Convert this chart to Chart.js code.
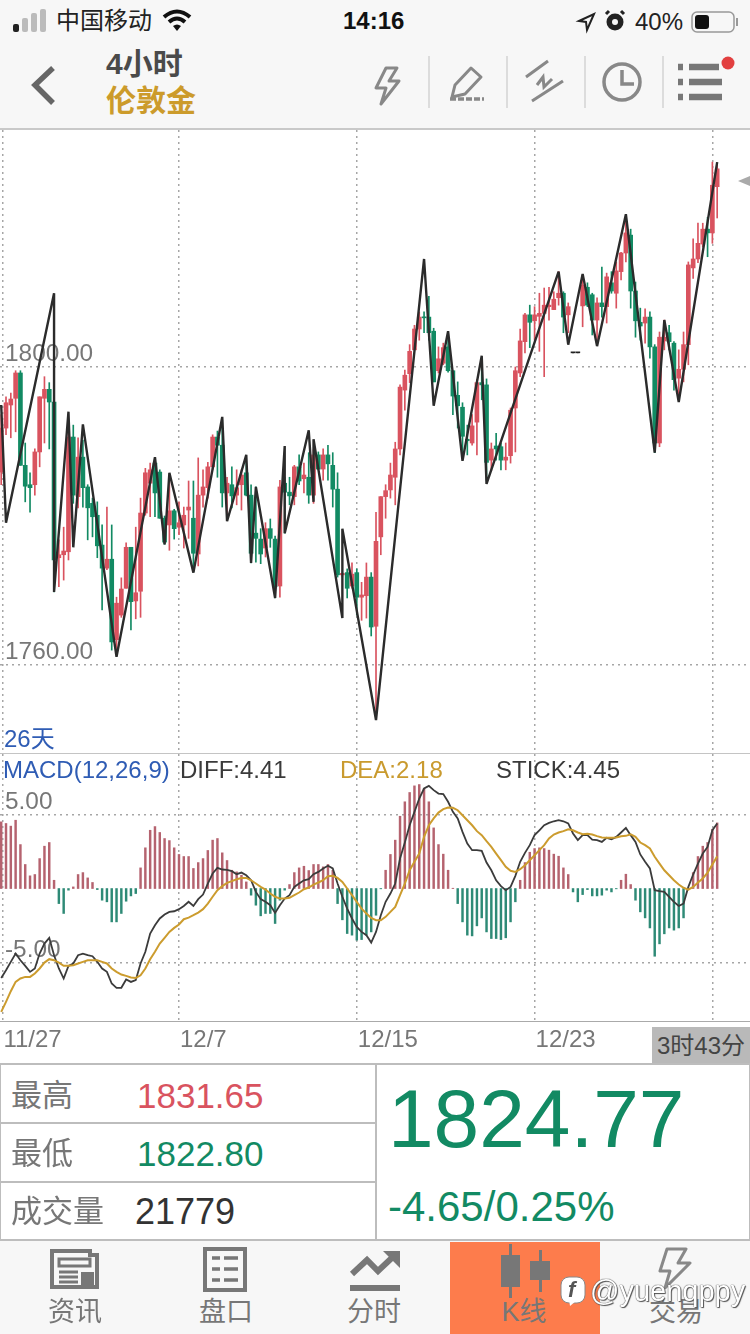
<!DOCTYPE html>
<html lang="zh">
<head>
<meta charset="utf-8">
<title>伦敦金 4小时</title>
<script src="https://cdn.jsdelivr.net/npm/chart.js@4/dist/chart.umd.min.js"></script>
<style>
    html, body { margin: 0; padding: 0; background: #fff; }
    body {
        position: relative;
        width: 750px;
        height: 1334px;
        overflow: hidden;
        font-family: "Liberation Sans", "Noto Sans CJK SC", sans-serif;
    }
    .abs { position: absolute; white-space: nowrap; line-height: 1; }
    canvas { position: absolute; left: 0; display: block; }
    svg { position: absolute; overflow: visible; }

    /* top bars */
    #topBar { position: absolute; left: 0; top: 0; width: 750px; height: 128px; background: #f7f7f7; border-bottom: 2px solid #c9c9c9; }
    .sep { position: absolute; top: 56px; width: 2px; height: 52px; background: #dcdcdc; }

    /* chart panes */
    .paneLine { position: absolute; left: 0; width: 750px; height: 1px; background: #c4c4c4; }
    #priceArrow { position: absolute; left: 738px; top: 176px; width: 0; height: 0; border-top: 5px solid transparent; border-bottom: 5px solid transparent; border-right: 12px solid #aaa; }

    /* quote table */
    .line { position: absolute; background: #bdbdbd; }
    .cell { color: #777; font-size: 31px; }

    /* bottom tabs */
    #tabBar { position: absolute; left: 0; top: 1241px; width: 750px; height: 93px; background: #f7f7f7; }
    #tabActive { position: absolute; left: 450px; top: 1242px; width: 150px; height: 92px; background: #fd7c4c; }
    .tab { color: #777; font-size: 27px; transform: translateX(-50%); top: 1299px; }
</style>
</head>
<body>

<div id="topBar"></div>

<!-- status bar -->
<svg style="left:0;top:0" width="750" height="44">
    <rect x="13" y="24" width="6" height="8" rx="2" fill="#222"/>
    <rect x="22" y="18" width="6" height="14" rx="2" fill="#bbb"/>
    <rect x="31" y="13" width="6" height="19" rx="2" fill="#bbb"/>
    <rect x="40" y="9" width="6" height="23" rx="2" fill="#bbb"/>
    <path d="M164 17 Q177 6 190 17 M169 22 Q177 15 185 22" fill="none" stroke="#111" stroke-width="4"/>
    <path d="M173 26 L177 31 L181 26 Q177 23 173 26 Z" fill="#111"/>
    <path d="M579 21 L594 14 L587 30 L586 22 Z" fill="none" stroke="#222" stroke-width="2"/>
    <circle cx="615" cy="22" r="8.5" fill="#222"/>
    <circle cx="615" cy="22" r="3" fill="#f7f7f7"/>
    <path d="M606 14 L609 11 M624 14 L621 11" stroke="#222" stroke-width="3"/>
    <rect x="692" y="12" width="42" height="20" rx="5" fill="none" stroke="#999" stroke-width="1.5"/>
    <rect x="695" y="15" width="14" height="14" rx="3" fill="#111"/>
    <rect x="736" y="18" width="2" height="8" fill="#999"/>
</svg>
<div class="abs" style="left:56px;top:9px;font-size:24px;color:#222">中国移动</div>
<div class="abs" style="left:343px;top:9px;font-size:24px;font-weight:bold;color:#111">14:16</div>
<div class="abs" style="left:635px;top:10px;font-size:24px;color:#222">40%</div>

<!-- title row -->
<svg style="left:0;top:44px" width="750" height="84">
    <path d="M53 24 L35 41 L53 59" fill="none" stroke="#666" stroke-width="5.5"/>
    <path d="M386 24 L376 44 L386 44 L381 60 L399 37 L389 37 L397 24 Z" fill="none" stroke="#888" stroke-width="3" stroke-linejoin="round"/>
    <path d="M452 53 L455 41 L471 24 L481 33 L465 50 Z" fill="none" stroke="#888" stroke-width="3" stroke-linejoin="round"/>
    <path d="M450 55 H484" stroke="#888" stroke-width="3.5" stroke-dasharray="6 2"/>
    <path d="M526 33 L548 17 M532 57 L563 37 M537 41 L543 33 L544 43 L552 35" fill="none" stroke="#888" stroke-width="3"/>
    <circle cx="622" cy="38" r="18" fill="none" stroke="#888" stroke-width="3.5"/>
    <path d="M622 26 V40 H634" fill="none" stroke="#888" stroke-width="3.5"/>
    <path d="M678 23 H683 M689 23 H719 M678 38 H683 M689 38 H722 M678 53 H683 M689 53 H722" stroke="#777" stroke-width="6.5"/>
    <circle cx="728" cy="19" r="6.5" fill="#e24040"/>
</svg>
<div class="abs" style="left:106px;top:49px;font-size:30px;font-weight:bold;color:#4a4a4a">4小时</div>
<div class="abs" style="left:106px;top:86px;font-size:30px;font-weight:bold;color:#cc9b2b">伦敦金</div>
<div class="sep" style="left:428px"></div>
<div class="sep" style="left:506px"></div>
<div class="sep" style="left:584px"></div>
<div class="sep" style="left:662px"></div>

<!-- price pane -->
<canvas id="priceChart" width="750" height="623" style="top:130px"></canvas>
<div id="priceArrow"></div>
<div class="abs" style="left:4px;top:727px;font-size:24px;color:#2f5cb4">26天</div>
<div class="paneLine" style="top:753px"></div>

<!-- MACD pane -->
<canvas id="macdChart" width="750" height="310" style="top:754px"></canvas>
<div class="abs" style="left:3px;top:758px;font-size:24px;color:#2f5cb4">MACD(12,26,9)</div>
<div class="abs" style="left:180px;top:758px;font-size:24px;color:#3a3a3a">DIFF:4.41</div>
<div class="abs" style="left:340px;top:758px;font-size:24px;color:#c99a2e">DEA:2.18</div>
<div class="abs" style="left:496px;top:758px;font-size:24px;color:#3a3a3a">STICK:4.45</div>
<div class="paneLine" style="top:1021px;background:#aaa"></div>
<div class="abs" style="left:652px;top:1027px;width:98px;height:36px;line-height:37px;background:#b9b9b9;color:#444;font-size:24px;text-align:center">3时43分</div>

<!-- quote table -->
<div class="line" style="left:0;top:1063px;width:750px;height:2px"></div>
<div class="line" style="left:0;top:1122px;width:375px;height:2px"></div>
<div class="line" style="left:0;top:1181px;width:375px;height:2px"></div>
<div class="line" style="left:0;top:1239px;width:750px;height:2px"></div>
<div class="line" style="left:375px;top:1064px;width:2px;height:176px"></div>
<div class="line" style="left:0;top:1064px;width:1px;height:176px"></div>
<div class="line" style="left:749px;top:1064px;width:1px;height:176px"></div>
<div class="abs cell" style="left:11px;top:1080px">最高</div>
<div class="abs cell" style="left:11px;top:1138px">最低</div>
<div class="abs cell" style="left:11px;top:1196px">成交量</div>
<div class="abs" style="left:137px;top:1078px;font-size:35px;color:#d9535f">1831.65</div>
<div class="abs" style="left:137px;top:1136px;font-size:35px;color:#128a63">1822.80</div>
<div class="abs" style="left:135px;top:1194px;font-size:36px;color:#333">21779</div>
<div class="abs" style="left:388px;top:1078px;font-size:82px;color:#128a63">1824.77</div>
<div class="abs" style="left:388px;top:1186px;font-size:42px;color:#128a63">-4.65/0.25%</div>

<!-- bottom tabs -->
<div id="tabBar"></div>
<div id="tabActive"></div>
<svg style="left:0;top:1241px" width="750" height="93">
    <path d="M52 10 H90 V14 H97 V46 H52 Z" fill="none" stroke="#777" stroke-width="4"/>
    <path d="M59 18 H90 V25 H59 Z M59 31 H78 M59 36 H78 M59 41 H78" fill="none" stroke="#777" stroke-width="3"/>
    <rect x="81" y="31" width="13" height="13" fill="#777"/>
    <rect x="205" y="8" width="40" height="41" fill="none" stroke="#777" stroke-width="4"/>
    <path d="M212 17 H220 M224 17 H238 M212 28 H220 M224 28 H238 M212 39 H220 M224 39 H238" stroke="#777" stroke-width="3.5"/>
    <path d="M352 33 L367 19 L378 30 L396 13" fill="none" stroke="#777" stroke-width="6"/>
    <path d="M383 10 H400 V27 Z" fill="#777"/>
    <rect x="350" y="44" width="50" height="6" fill="#777"/>
    <rect x="501" y="14" width="19" height="32" fill="#777"/>
    <rect x="509" y="3" width="3" height="54" fill="#777"/>
    <rect x="530" y="20" width="20" height="19" fill="#777"/>
    <rect x="539" y="9" width="3" height="42" fill="#777"/>
    <path d="M667 8 L660 30 L670 30 L665 47 L690 22 L678 22 L686 8 Z" fill="none" stroke="#888" stroke-width="3" stroke-linejoin="round"/>
</svg>
<div class="abs tab" style="left:75px">资讯</div>
<div class="abs tab" style="left:226px">盘口</div>
<div class="abs tab" style="left:374px">分时</div>
<div class="abs tab" style="left:524px">K线</div>
<div class="abs tab" style="left:676px">交易</div>

<!-- account mark over the tabs -->
<svg style="left:0;top:0" width="750" height="1334" pointer-events="none">
    <rect x="561" y="1277" width="24" height="26" rx="8" fill="#fff" stroke="#888" stroke-width="1"/>
    <path d="M570 1306 L569 1299 L576 1301 Z" fill="#fff"/>
</svg>
<div class="abs" style="left:568px;top:1279px;font-size:22px;font-style:italic;font-weight:bold;color:#555">f</div>
<div class="abs" style="left:590px;top:1277px;font-size:29px;color:#fff;text-shadow:0 0 1px #444,0 0 1px #444,1px 1px 1px #555">@yuenqppy</div>

<script>
// Candles, oldest first, one per 4 hours
const opens = [
    1785.9, 1791.8, 1794.9, 1795.8, 1799.2, 1786.8, 1784.2, 1784.2, 1788.6, 1795.8,
    1797.0, 1795.3, 1774.4, 1774.8, 1775.2, 1790.6, 1782.6, 1787.9, 1783.9, 1781.7,
    1780.1, 1776.1, 1773.0, 1774.2, 1763.4, 1766.7, 1770.3, 1775.8, 1768.6, 1769.9,
    1780.4, 1784.4, 1787.1, 1785.9, 1779.7, 1778.8, 1780.7, 1778.5, 1778.8, 1780.8,
    1779.7, 1774.9, 1782.8, 1783.8, 1786.6, 1790.6, 1789.5, 1783.1, 1784.2, 1782.8,
    1784.2, 1785.8, 1782.8, 1777.7, 1776.9, 1775.7, 1778.3, 1776.9, 1770.6, 1784.4,
    1783.2, 1782.6, 1786.6, 1785.0, 1785.2, 1782.8, 1788.2, 1786.3, 1788.2, 1786.8,
    1783.6, 1772.1, 1772.4, 1770.6, 1772.4, 1769.1, 1769.3, 1771.8, 1765.2, 1777.2,
    1782.6, 1783.5, 1785.2, 1789.0, 1796.9, 1799.1, 1802.3, 1805.1, 1806.7, 1806.7,
    1804.8, 1799.5, 1800.5, 1802.7, 1799.5, 1796.2, 1794.6, 1790.3, 1789.8, 1792.6,
    1797.9, 1797.6, 1787.5, 1789.4, 1789.3, 1787.5, 1788.1, 1794.5, 1799.2, 1803.4,
    1807.0, 1806.2, 1806.8, 1807.2, 1808.1, 1807.7, 1809.3, 1809.9, 1807.0, 1801.9,
    1801.9, 1808.2, 1810.7, 1809.7, 1806.3, 1808.6, 1808.1, 1811.3, 1809.9, 1812.8,
    1815.3, 1817.7, 1810.2, 1806.0, 1805.9, 1806.7, 1802.7, 1789.8, 1803.5, 1804.6,
    1803.2, 1798.5, 1799.7, 1803.0, 1813.3, 1814.5, 1816.5, 1818.5, 1818.0, 1824.2
];
const highs = [
    1793.6, 1796.0, 1796.5, 1799.5, 1799.5, 1789.8, 1785.8, 1789.0, 1796.0, 1798.7,
    1797.9, 1795.6, 1776.8, 1778.5, 1791.5, 1792.2, 1790.5, 1790.2, 1784.2, 1782.4,
    1781.9, 1778.8, 1781.2, 1778.8, 1769.1, 1771.7, 1776.4, 1775.8, 1778.5, 1782.4,
    1786.4, 1787.1, 1787.8, 1786.2, 1780.0, 1785.2, 1780.9, 1781.9, 1781.2, 1784.7,
    1784.7, 1787.8, 1786.2, 1787.2, 1790.9, 1791.4, 1792.9, 1785.2, 1786.6, 1786.2,
    1786.2, 1787.1, 1784.2, 1783.9, 1778.3, 1779.1, 1779.6, 1777.3, 1784.8, 1785.2,
    1785.2, 1786.8, 1788.2, 1787.1, 1788.5, 1788.9, 1788.6, 1789.0, 1789.5, 1788.5,
    1785.8, 1772.4, 1772.9, 1773.7, 1772.9, 1771.1, 1773.7, 1772.4, 1780.5, 1782.6,
    1784.2, 1787.1, 1789.9, 1797.6, 1799.6, 1803.0, 1805.6, 1807.4, 1807.4, 1809.5,
    1805.2, 1802.7, 1803.2, 1803.6, 1799.5, 1798.0, 1795.2, 1792.2, 1793.6, 1798.3,
    1801.3, 1798.4, 1789.8, 1791.1, 1789.8, 1789.8, 1794.5, 1800.0, 1805.1, 1807.2,
    1808.3, 1808.1, 1809.9, 1810.6, 1810.7, 1810.1, 1812.8, 1810.1, 1808.6, 1801.9,
    1801.9, 1812.3, 1811.3, 1809.9, 1809.3, 1813.4, 1812.6, 1812.8, 1814.1, 1815.4,
    1820.4, 1818.5, 1811.4, 1807.9, 1807.8, 1807.4, 1803.0, 1804.7, 1806.3, 1805.6,
    1803.4, 1802.3, 1804.7, 1814.1, 1817.2, 1819.3, 1819.3, 1820.1, 1827.5, 1827.4
];
const lows = [
    1784.2, 1790.9, 1790.5, 1791.3, 1786.8, 1781.9, 1780.5, 1782.8, 1786.6, 1789.8,
    1789.0, 1769.8, 1770.5, 1771.4, 1774.1, 1781.7, 1781.1, 1781.2, 1776.8, 1777.2,
    1774.4, 1767.4, 1772.8, 1762.0, 1761.6, 1766.4, 1770.3, 1764.7, 1766.2, 1766.4,
    1780.1, 1779.9, 1779.9, 1779.7, 1776.2, 1775.4, 1776.9, 1777.5, 1775.7, 1777.0,
    1772.5, 1773.3, 1781.2, 1782.4, 1786.2, 1785.2, 1781.2, 1780.1, 1781.1, 1781.5,
    1780.8, 1782.7, 1773.7, 1773.8, 1773.6, 1774.5, 1775.8, 1769.0, 1769.1, 1777.7,
    1781.5, 1781.5, 1784.2, 1783.1, 1781.7, 1781.7, 1786.2, 1784.8, 1784.8, 1781.2,
    1771.8, 1771.8, 1769.0, 1770.3, 1766.7, 1766.0, 1766.3, 1763.9, 1753.0, 1774.8,
    1779.7, 1782.4, 1781.5, 1788.2, 1794.2, 1797.9, 1802.3, 1803.6, 1804.6, 1803.6,
    1798.0, 1799.2, 1800.3, 1799.3, 1793.6, 1791.8, 1787.8, 1788.2, 1789.5, 1788.2,
    1795.6, 1784.8, 1786.1, 1787.5, 1786.2, 1786.2, 1787.1, 1788.6, 1798.7, 1801.9,
    1802.6, 1803.6, 1802.1, 1798.7, 1806.3, 1807.7, 1808.3, 1804.6, 1804.6, 1801.9,
    1801.9, 1805.4, 1808.1, 1804.3, 1803.6, 1806.7, 1805.9, 1809.9, 1807.9, 1811.7,
    1814.1, 1807.9, 1804.0, 1803.6, 1803.2, 1801.2, 1788.5, 1789.3, 1802.3, 1802.3,
    1796.9, 1796.0, 1798.0, 1800.3, 1811.9, 1814.0, 1816.1, 1814.8, 1816.6, 1820.0
];
const closes = [
    1791.8, 1795.2, 1795.7, 1799.2, 1786.8, 1784.0, 1783.8, 1788.6, 1796.0, 1797.0,
    1795.3, 1774.1, 1774.8, 1775.3, 1790.6, 1782.8, 1787.9, 1783.8, 1781.1, 1779.9,
    1776.0, 1773.0, 1774.2, 1763.1, 1768.3, 1770.2, 1775.8, 1768.5, 1769.7, 1780.4,
    1785.8, 1786.2, 1783.1, 1779.7, 1776.5, 1780.7, 1778.3, 1779.1, 1780.1, 1781.2,
    1775.0, 1782.8, 1783.9, 1786.6, 1790.6, 1789.5, 1783.1, 1784.4, 1782.7, 1783.8,
    1785.5, 1782.8, 1775.0, 1777.0, 1774.9, 1778.3, 1777.0, 1770.5, 1783.9, 1783.2,
    1782.7, 1786.6, 1784.7, 1785.5, 1782.8, 1788.2, 1786.3, 1788.2, 1787.0, 1783.6,
    1772.1, 1772.3, 1770.3, 1772.2, 1769.1, 1769.4, 1771.8, 1765.1, 1776.6, 1782.6,
    1783.4, 1785.5, 1789.0, 1797.3, 1798.9, 1802.1, 1805.1, 1806.7, 1806.6, 1804.6,
    1798.0, 1801.1, 1802.6, 1799.5, 1796.1, 1794.8, 1790.7, 1790.1, 1792.1, 1797.9,
    1797.6, 1787.2, 1789.0, 1789.0, 1787.5, 1787.9, 1794.2, 1799.5, 1803.5, 1807.0,
    1806.0, 1807.0, 1807.2, 1808.3, 1808.3, 1809.1, 1809.9, 1806.7, 1808.1, 1801.9,
    1801.9, 1811.0, 1808.3, 1806.3, 1808.6, 1808.1, 1812.1, 1810.2, 1812.9, 1815.3,
    1818.0, 1810.2, 1806.2, 1805.5, 1806.7, 1802.7, 1789.8, 1804.0, 1804.0, 1803.4,
    1798.3, 1799.7, 1803.0, 1813.7, 1814.5, 1816.6, 1818.5, 1818.0, 1824.4, 1826.6
];

// Turning points of the zigzag overlay: candle number and price
const zigzagIndex = [
    0, 1, 11, 11, 14, 15, 17, 24, 32, 34, 35, 40, 46, 47, 51, 52, 53, 57, 59, 59, 64,
    65, 65, 71, 71, 78, 88, 90, 93, 96, 100, 101, 116, 118, 121, 124, 130, 136, 138, 141, 149
];
const zigzagPrice = [
    1794.9, 1779.1, 1809.9, 1769.8, 1794.0, 1775.8, 1792.3, 1761.1, 1787.9, 1776.2, 1785.8,
    1772.4, 1793.3, 1779.3, 1788.2, 1773.7, 1783.9, 1769.0, 1789.4, 1777.7, 1791.5,
    1781.9, 1790.3, 1766.3, 1778.3, 1752.6, 1814.5, 1794.8, 1804.8, 1787.4, 1801.5,
    1784.3, 1812.8, 1803.0, 1812.5, 1802.8, 1820.5, 1788.5, 1806.3, 1795.3, 1827.5
];

// MACD(12,26,9)
const stickValues = [
    4.52, 4.41, 4.23, 4.63, 2.98, 1.63, 0.86, 0.95, 2.03, 2.87,
    3.12, 0.56, -1.02, -1.69, -0.11, 0.11, 0.95, 1.08, 0.72, 0.41,
    -0.07, -0.79, -0.90, -2.26, -2.26, -1.69, -0.86, -0.50, -0.34, 1.40,
    2.76, 3.95, 4.20, 3.80, 3.39, 3.25, 2.76, 2.31, 2.17, 2.17,
    1.36, 1.76, 2.03, 2.58, 3.28, 3.39, 2.42, 1.90, 1.24, 1.13,
    0.90, 0.45, -0.45, -1.13, -1.85, -1.69, -1.69, -2.37, -0.79, -0.11,
    0.27, 1.08, 1.40, 1.51, 1.22, 1.63, 1.63, 1.47, 1.63, 1.24,
    -1.02, -2.12, -3.05, -3.16, -3.50, -3.46, -3.16, -2.94, -1.81, -0.02,
    1.24, 2.31, 3.28, 4.90, 5.88, 6.51, 6.96, 7.05, 6.78, 5.88,
    4.11, 2.98, 2.33, 1.24, 0.02, -1.02, -2.26, -3.16, -3.21, -2.53,
    -1.99, -2.94, -3.39, -3.39, -3.46, -3.34, -2.26, -0.90, 0.56, 1.76,
    2.46, 2.71, 2.76, 2.71, 2.60, 2.33, 2.19, 1.40, 0.95, -0.23,
    -0.90, -0.41, -0.07, -0.50, -0.50, -0.45, -0.11, -0.23, -0.02, 0.56,
    0.97, 0.27, -0.79, -1.58, -1.99, -2.67, -4.59, -3.75, -3.07, -2.67,
    -2.82, -2.67, -1.99, 0.02, 1.08, 2.17, 2.87, 3.12, 4.02, 4.45
];
const diffValues = [
    -6.06, -5.54, -4.97, -4.41, -4.86, -5.24, -5.65, -5.42, -4.41, -3.73,
    -3.34, -4.52, -5.42, -6.10, -5.24, -5.08, -4.52, -4.41, -4.52, -4.59,
    -4.97, -5.42, -5.65, -6.44, -6.73, -6.73, -6.17, -6.33, -6.21, -5.08,
    -4.29, -3.05, -2.49, -2.03, -1.76, -1.58, -1.54, -1.40, -1.18, -0.90,
    -1.18, -0.72, -0.41, 0.34, 1.02, 1.40, 1.29, 1.27, 1.18, 0.97,
    1.08, 0.90, 0.56, -0.23, -0.72, -0.90, -1.13, -1.65, -1.13, -0.68,
    -0.45, 0.11, 0.34, 0.56, 0.63, 0.97, 1.13, 1.36, 1.54, 1.36,
    0.34, -0.56, -1.36, -2.03, -2.60, -2.94, -3.16, -3.66, -2.94, -1.81,
    -0.90, -0.34, 0.34, 2.03, 3.12, 4.29, 5.20, 6.10, 6.78, 6.96,
    6.67, 6.44, 6.40, 5.88, 5.20, 4.75, 3.84, 3.05, 2.60, 2.60,
    2.55, 1.76, 1.24, 0.56, 0.16, -0.11, 0.11, 0.86, 1.81, 2.42,
    2.94, 3.62, 3.95, 4.29, 4.45, 4.56, 4.63, 4.56, 4.41, 3.73,
    3.28, 3.62, 3.62, 3.32, 3.28, 3.16, 3.44, 3.34, 3.50, 3.80,
    4.11, 3.62, 3.16, 2.31, 1.81, 1.36, -0.11, -0.18, -0.23, -0.56,
    -0.90, -1.18, -1.02, 0.11, 0.95, 1.69, 2.37, 2.82, 3.95, 4.41
];
const deaValues = [
    -8.36, -7.68, -6.96, -6.33, -6.10, -5.99, -5.99, -5.76, -5.42, -5.02,
    -4.79, -4.86, -5.02, -5.24, -5.24, -5.20, -5.08, -4.97, -4.86, -4.86,
    -4.86, -4.97, -5.08, -5.42, -5.65, -5.83, -5.92, -6.03, -6.06, -5.88,
    -5.42, -4.79, -4.29, -3.73, -3.34, -2.94, -2.67, -2.44, -2.08, -1.97,
    -1.81, -1.63, -1.40, -1.02, -0.56, -0.11, 0.16, 0.38, 0.50, 0.63,
    0.72, 0.72, 0.56, 0.34, 0.11, -0.07, -0.34, -0.56, -0.68, -0.68,
    -0.63, -0.45, -0.27, -0.05, 0.07, 0.27, 0.41, 0.56, 0.84, 0.86,
    0.72, 0.45, 0, -0.45, -0.90, -1.36, -1.69, -1.99, -2.15, -2.15,
    -1.92, -1.58, -1.24, -0.45, 0.34, 1.24, 1.81, 2.37, 3.50, 4.29,
    4.75, 5.15, 5.38, 5.49, 5.47, 5.31, 4.97, 4.63, 4.29, 3.89,
    3.62, 3.21, 2.82, 2.37, 1.92, 1.47, 1.20, 1.13, 1.31, 1.58,
    1.92, 2.26, 2.60, 2.94, 3.39, 3.66, 3.80, 3.89, 4.02, 3.95,
    3.80, 3.68, 3.71, 3.66, 3.55, 3.46, 3.44, 3.44, 3.46, 3.55,
    3.57, 3.68, 3.50, 3.12, 2.94, 2.71, 2.15, 1.69, 1.24, 0.90,
    0.56, 0.27, 0.05, -0.07, 0.11, 0.41, 0.68, 1.08, 1.63, 2.18
];

// Axis ticks
const gridIndex = [0.25, 37, 74, 111, 148];
const dateLabels = ['11/27', '12/7', '12/15', '12/23', ''];
const priceTicks = [1800, 1760];
const macdTicks = [5, -5];

const colors = {
    up: '#d9535f',
    down: '#128a63',
    flat: '#222222',
    zigzag: '#2b2b2b',
    stickUp: '#b5636f',
    stickDown: '#2e8a76',
    diff: '#3b3b3b',
    dea: '#cc9c2e',
    grid: '#a6a6a6',
    label: '#777777'
};

const fontFamily = '"Liberation Sans", "Noto Sans CJK SC", sans-serif';

// Candle slots, 4.8px apart; the spare slots on the right leave room for the price marker
const xRange = { min: -0.25, max: 155.83 };

// The panes run edge to edge, so drop the room Chart.js keeps for overhanging tick labels
function dropLabelPadding(scale) {
    scale.paddingLeft = 0;
    scale.paddingRight = 0;
    scale.paddingTop = 0;
    scale.paddingBottom = 0;
}

// Shared x axis: dotted date lines only
function dateAxis(showLabels, height) {
    return {
        type: 'linear',
        min: xRange.min,
        max: xRange.max,
        offset: false,
        afterBuildTicks: function (scale) {
            scale.ticks = gridIndex.map(function (v) { return { value: v }; });
        },
        afterFit: function (scale) {
            scale.height = height;
            dropLabelPadding(scale);
        },
        grid: { offset: false, color: colors.grid, lineWidth: 1.5, drawTicks: false },
        border: { display: false, dash: [2, 4] },
        ticks: {
            display: showLabels,
            autoSkip: false,
            maxRotation: 0,
            align: 'start',
            labelOffset: 1,
            padding: 5,
            color: colors.label,
            font: { family: fontFamily, size: 24 },
            callback: function (value) {
                return dateLabels[gridIndex.indexOf(value)];
            }
        }
    };
}

// Shared y axis: dotted level lines with the label sitting above each line
function levelAxis(range, levels, labelLift) {
    return {
        min: range[0],
        max: range[1],
        afterBuildTicks: function (scale) {
            scale.ticks = levels.map(function (v) { return { value: v }; });
        },
        afterFit: function (scale) {
            scale.width = 0;
            dropLabelPadding(scale);
        },
        grid: { color: colors.grid, lineWidth: 1.5, drawTicks: false },
        border: { display: false, dash: [2, 4] },
        ticks: {
            mirror: true,
            padding: 5,
            labelOffset: labelLift,
            color: colors.label,
            font: { family: fontFamily, size: 24.4 },
            callback: function (value) { return value.toFixed(2); }
        }
    };
}

function baseOptions() {
    return {
        responsive: false,
        animation: false,
        devicePixelRatio: 1,
        layout: { padding: 0 },
        plugins: { legend: { display: false }, tooltip: { enabled: false } }
    };
}

// Chart 1: candles with the zigzag on top
function initPriceChart() {
    const ctx = document.getElementById('priceChart');
    const candleColor = closes.map(function (c, i) {
        if (c > opens[i]) return colors.up;
        if (c < opens[i]) return colors.down;
        return colors.flat;
    });

    new Chart(ctx, {
        type: 'bar',
        data: {
            datasets: [
                {
                    type: 'line',
                    order: 0,
                    data: zigzagIndex.map(function (x, i) { return { x: x, y: zigzagPrice[i] }; }),
                    borderColor: colors.zigzag,
                    borderWidth: 2.4,
                    borderJoinStyle: 'bevel',
                    pointRadius: 0,
                    tension: 0
                },
                {
                    order: 1,
                    grouped: false,
                    barThickness: 4,
                    minBarLength: 1,
                    data: opens.map(function (o, i) { return { x: i, y: [o, closes[i]] }; }),
                    backgroundColor: candleColor
                },
                {
                    order: 2,
                    grouped: false,
                    barThickness: 1,
                    data: highs.map(function (h, i) { return { x: i, y: [lows[i], h] }; }),
                    backgroundColor: candleColor
                }
            ]
        },
        options: Object.assign(baseOptions(), {
            scales: {
                x: dateAxis(false, 0),
                y: levelAxis([1748.19, 1831.81], priceTicks, -13)
            }
        })
    });
}

// Chart 2: MACD sticks with DIFF and DEA
function initMacdChart() {
    const ctx = document.getElementById('macdChart');

    new Chart(ctx, {
        type: 'bar',
        data: {
            datasets: [
                {
                    type: 'line',
                    order: 0,
                    data: deaValues.map(function (v, i) { return { x: i, y: v }; }),
                    borderColor: colors.dea,
                    borderWidth: 2,
                    pointRadius: 0,
                    tension: 0
                },
                {
                    type: 'line',
                    order: 1,
                    data: diffValues.map(function (v, i) { return { x: i, y: v }; }),
                    borderColor: colors.diff,
                    borderWidth: 1.8,
                    pointRadius: 0,
                    tension: 0
                },
                {
                    order: 2,
                    grouped: false,
                    barThickness: 1.8,
                    data: stickValues.map(function (v, i) { return { x: i, y: v }; }),
                    backgroundColor: stickValues.map(function (v) {
                        return v >= 0 ? colors.stickUp : colors.stickDown;
                    })
                }
            ]
        },
        options: Object.assign(baseOptions(), {
            scales: {
                x: dateAxis(true, 43),
                y: levelAxis([-8.98, 9.12], macdTicks, -12)
            }
        })
    });
}

document.addEventListener('DOMContentLoaded', function () {
    initPriceChart();
    initMacdChart();
});
</script>
</body>
</html>
